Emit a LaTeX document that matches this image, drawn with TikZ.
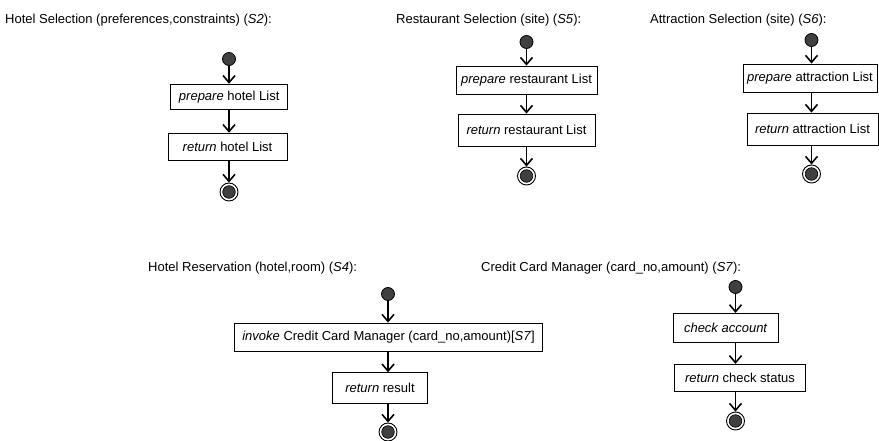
\documentclass[tikz,border=0pt]{standalone}
\usepackage{fontspec}
\setmainfont{Liberation Sans}
\usepackage{xcolor}
\usepackage{tikz}
\usetikzlibrary{arrows.meta}

\definecolor{dotfill}{HTML}{404040}

\begin{document}
\begin{tikzpicture}[x=1pt, y=-1pt,
	every node/.style={font=\fontsize{13}{15}\selectfont},
	title/.style={anchor=west, inner sep=0pt},
	act/.style={draw, line width=0.8pt, inner sep=0pt},
	initial/.style={circle, draw, line width=0.8pt, fill=dotfill, minimum size=13pt, inner sep=0pt},
	final/.style={circle, draw, line width=0.9pt, fill=white, minimum size=18pt, inner sep=0pt,
		path picture={\fill[dotfill, draw=black, line width=0.6pt] (path picture bounding box.center) circle (6.3pt);}},
	flow/.style={line width=1.6pt, -{Straight Barb[length=7pt, width=12pt]}}]
	\useasboundingbox (0,0) rectangle (879,441);
	% titles
	\node[title] (t2) at (5,20) {Hotel Selection (preferences,constraints) (\textit{S2}):};
	\node[title] (t5) at (396,20) {Restaurant Selection (site) (\textit{S5}):};
	\node[title] (t6) at (650,20) {Attraction Selection (site) (\textit{S6}):};
	\node[title] (t4) at (148,268) {Hotel Reservation (hotel,room) (\textit{S4}):};
	\node[title] (t7) at (481,268) {Credit Card Manager (card\_no,amount) (\textit{S7}):};
	% S2
	\node[initial] (s2) at (229,59) {};
	\node[act, minimum width=117pt, minimum height=25.7pt] (s2a) at (229.2,97) {\textit{prepare} hotel List};
	\node[act, minimum width=119pt, minimum height=27.7pt] (s2b) at (227.5,147) {\textit{return} hotel List};
	\node[final] (e2) at (229,192) {};
	\draw[flow] (s2) -- (s2 |- s2a.north);
	\draw[flow] (s2 |- s2a.south) -- (s2 |- s2b.north);
	\draw[flow] (s2 |- s2b.south) -- (e2);
	% S5
	\node[initial] (s5) at (526.5,42) {};
	\node[act, minimum width=141pt, minimum height=28pt] (s5a) at (526.5,80) {\textit{prepare} restaurant List};
	\node[act, minimum width=137pt, minimum height=32.7pt] (s5b) at (526.5,130.3) {\textit{return} restaurant List};
	\node[final] (e5) at (526.5,176) {};
	\draw[flow] (s5) -- (s5a);
	\draw[flow] (s5a) -- (s5b);
	\draw[flow] (s5b) -- (e5);
	% S6
	\node[initial] (s6) at (811.5,40) {};
	\node[act, minimum width=134pt, minimum height=28.7pt] (s6a) at (810,78.3) {\textit{prepare} attraction List};
	\node[act, minimum width=131pt, minimum height=32pt] (s6b) at (812.5,129) {\textit{return} attraction List};
	\node[final] (e6) at (811.5,174) {};
	\draw[flow] (s6) -- (s6 |- s6a.north);
	\draw[flow] (s6 |- s6a.south) -- (s6 |- s6b.north);
	\draw[flow] (s6 |- s6b.south) -- (e6);
	% S4
	\node[initial] (s4) at (388,294) {};
	\node[act, minimum width=308pt, minimum height=28pt] (s4a) at (388.5,337) {\textit{invoke} Credit Card Manager (card\_no,amount)[\textit{S7}]};
	\node[act, minimum width=94.7pt, minimum height=30.7pt] (s4b) at (380,388) {\textit{return} result};
	\node[final] (e4) at (388,432) {};
	\draw[flow] (s4) -- (s4 |- s4a.north);
	\draw[flow] (s4 |- s4a.south) -- (s4 |- s4b.north);
	\draw[flow] (s4 |- s4b.south) -- (e4);
	% S7
	\node[initial] (s7) at (735.5,287) {};
	\node[act, minimum width=105pt, minimum height=29.3pt] (s7a) at (725.8,328) {\textit{check account}};
	\node[act, minimum width=131.4pt, minimum height=27.4pt] (s7b) at (740,378) {\textit{return} check status};
	\node[final] (e7) at (735.5,421) {};
	\draw[flow] (s7) -- (s7 |- s7a.north);
	\draw[flow] (s7 |- s7a.south) -- (s7 |- s7b.north);
	\draw[flow] (s7 |- s7b.south) -- (e7);
\end{tikzpicture}
\end{document}
